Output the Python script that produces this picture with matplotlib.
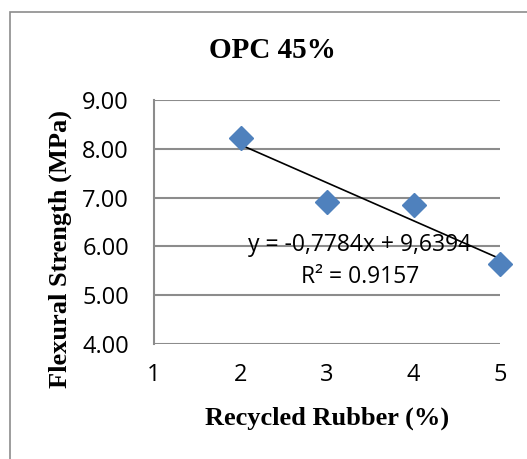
import matplotlib.pyplot as plt
from matplotlib.patches import Rectangle
import numpy as np

# rubber content (%) and flexural strength (MPa)
rubber = [2, 3, 4, 5]
strength = [8.23, 6.92, 6.85, 5.64]

# linear trendline as reported
slope = -0.7784
intercept = 9.6394
r2 = 0.9157

x_ticks = [1, 2, 3, 4, 5]
y_ticks = [4.0, 5.0, 6.0, 7.0, 8.0, 9.0]

W, H = 527, 459
fig = plt.figure(figsize=(W / 100, H / 100), dpi=100)

# chart frame
fig.patches.append(Rectangle((10 / W, -0.05), 1.2, 1 - 12 / H + 0.05,
                             transform=fig.transFigure, fill=False,
                             edgecolor='#8c8c8c', linewidth=1.2))

ax = fig.add_axes([154 / W, 115 / H, 346 / W, 244 / H])
ax.set_xlim(1, 5)
ax.set_ylim(4, 9)

grid_col = '#8c8c8c'
for yv in y_ticks:
    ax.axhline(yv, color=grid_col, linewidth=1.5, zorder=1)
for side in ['top', 'right', 'bottom']:
    ax.spines[side].set_visible(False)
ax.spines['left'].set_color(grid_col)
ax.spines['left'].set_linewidth(1.5)

xs = np.array([rubber[0], rubber[-1]])
ax.plot(xs, slope * xs + intercept, color='black', linewidth=1.2, zorder=3)
ax.plot(rubber, strength, linestyle='none', marker='D', markersize=12,
        color='#4f81bd', markeredgecolor='#4f81bd', zorder=4, clip_on=False)

tick_font = {'family': 'Open Sans', 'size': 17}
ax.set_xticks(x_ticks)
ax.set_xticklabels([str(v) for v in x_ticks], fontdict=tick_font)
ax.set_yticks(y_ticks)
ax.set_yticklabels(['%.2f' % v for v in y_ticks], fontdict=tick_font)
ax.tick_params(length=0)
ax.tick_params(axis='x', pad=14)
ax.tick_params(axis='y', pad=18)

eq_font = {'family': 'Open Sans', 'size': 16.5}
ax.text(3.38, 6.03, 'y = -0,7784x + 9,6394', ha='center', va='center',
        fontdict=eq_font, zorder=2)
ax.text(3.38, 5.37, 'R² = %.4f' % r2, ha='center', va='center',
        fontdict=eq_font, zorder=2)

serif_bold = {'family': 'Liberation Serif', 'weight': 'bold'}
fig.text(272 / W, 1 - 50 / H, 'OPC 45%', ha='center', va='center',
         fontsize=21, **serif_bold)
fig.text(327 / W, 1 - 418 / H, 'Recycled Rubber (%)', ha='center',
         va='center', fontsize=19, **serif_bold)
fig.text(60 / W, 1 - 249 / H, 'Flexural Strength (MPa)', ha='center',
         va='center', rotation=90, fontsize=19, **serif_bold)

fig.savefig('out.png', dpi=100)
